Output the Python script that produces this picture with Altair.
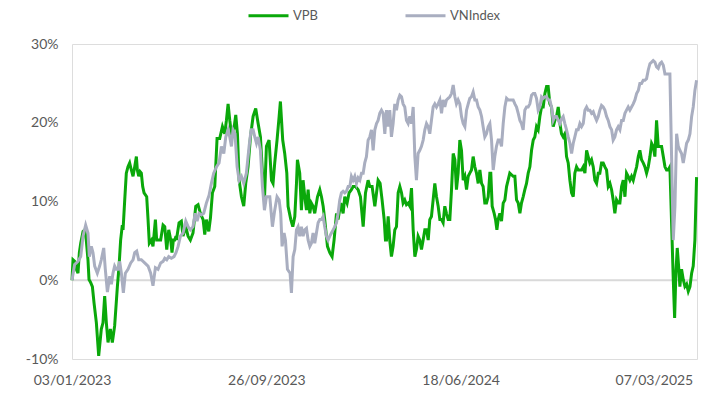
import altair as alt
import pandas as pd

# ---- data (trading-day index since 03/01/2023, % change) ----
vpb_day = [0, 0.95, 2.5, 4.1, 5.7, 7.0, 8.3, 10.5, 12.1, 13.6, 15.2, 16.2, 17.8, 19.4, 21.0,
           23.2, 25.4, 27.9, 29.5, 31.1, 32.7, 34.3, 36.5, 38.4, 40.6, 43.2, 44.8, 46.3, 47.9, 48.6,
           50.2, 51.7, 53.3, 54.9, 56.5, 58.1, 59.7, 61.3, 62.2, 63.5, 64.8, 66.0, 67.3, 68.6, 71.1,
           72.4, 73.6, 75.6, 77.1, 79.4, 80.6, 81.9, 84.4, 86.7, 88.3, 90.2, 92.1, 94.0, 95.2, 96.5,
           97.8, 99.0,
           99.4, 101.9, 104.1, 105.7, 108.3, 110.5, 112.7, 115.2, 117.8, 120.0, 122.2, 124.8, 126.4,
           127.9, 130.2, 131.8, 133.7, 135.9, 138.1, 140.6, 143.2, 145.4, 147.0, 148.6, 150.2, 151.8,
           154.0, 155.9, 157.5, 159.1, 161.3, 163.5, 165.4, 167.6, 169.9, 172.4, 174.9, 177.2, 179.4,
           181.3, 183.2, 185.1, 187.6, 189.9, 191.4, 193.0, 195.2, 197.2, 198.4,
           200.6, 202.5, 204.5, 205.7, 208.3, 210.2, 212.1, 213.7, 214.6, 216.8, 218.4, 220.0, 221.6,
           223.2, 224.8, 226.4, 227.9, 229.5, 231.1, 233.7, 235.9, 237.5, 239.1, 240.6, 243.2, 245.4,
           247.6, 249.5, 251.8, 253.3, 255.9, 258.1, 259.7, 261.9, 263.8, 266.0, 267.6, 269.9, 272.4,
           274.6, 277.2, 279.4, 281.9, 283.5, 285.7, 288.3, 289.9, 291.4, 293.3, 295.2, 297.2, 298.4,
           299.4, 301.0, 302.5, 304.1, 305.7, 307.3, 308.9, 310.5, 312.1, 313.7, 315.2, 316.8, 318.4,
           320.0, 321.6, 323.2, 324.8, 326.4, 327.9, 329.5, 331.1, 332.7, 334.3, 335.9, 337.5, 339.1,
           340.6, 342.2, 343.8, 345.4, 347.0, 348.6, 350.2, 351.8, 353.3, 354.9, 356.5, 358.1, 359.7,
           361.3, 362.9, 364.5, 366.0, 367.6, 369.2, 370.8, 372.4, 374.0, 375.6, 377.2, 378.7, 380.3,
           381.9, 383.5, 385.1, 386.7, 388.3, 389.9, 391.4, 393.0, 394.6, 396.2, 397.8,
           398.7, 400.0, 401.9, 403.2, 404.5, 405.7, 407.3, 408.9, 410.5, 412.1, 413.7, 415.2, 416.8,
           418.4, 420.0, 421.6, 423.2, 424.8, 426.4, 427.9, 429.5, 431.1, 432.7, 434.3, 435.9, 437.5,
           439.1, 440.6, 442.2, 443.8, 445.4, 447.0, 448.6, 450.2, 451.8, 453.3, 454.9, 456.5, 458.1,
           459.7, 461.3, 462.9, 464.5, 466.0, 467.6, 469.2, 470.8, 472.4, 474.0, 475.6, 477.2, 478.7,
           480.3, 481.9, 483.5, 485.1, 486.7, 488.3, 489.9, 491.4, 493.0, 494.6, 496.2, 497.8,
           499.4, 501.0, 502.5, 504.1, 505.7, 507.3, 508.9, 510.5, 512.1, 513.7, 515.2, 516.8, 518.4,
           520.0, 521.6, 523.2, 524.8, 526.4, 527.9, 529.5, 531.1, 532.7, 534.3, 535.9, 537.5, 539.1,
           540.6, 542.2, 543.8, 545.4, 547.0, 548.6, 550.2, 551.8, 553.3, 554.9, 556.5, 558.1, 559.7,
           561.3, 562.9, 564.5, 566.0, 567.6, 569.2, 570.8, 572.4, 573.7, 574.9, 576.2, 577.5, 578.7,
           580.3, 581.9, 583.5, 585.1, 586.7, 588.3, 589.9, 591.4, 593.0, 594.6]
vpb_pct = [0, 2.6, 2.4, 1.4, 0.9, 3.5, 4.7, 6.2, 6.4, 5.1, 2.6, 0.1, -0.3, -0.8, -2.9,
           -5.4, -9.6, -6.2, -5.4, -2.0, -5.4, -7.9, -6.2, -7.9, -5.8, -0.8, 1.8, 5.1, 7.0, 6.4,
           10.2, 13.6, 14.4, 14.9, 14.0, 13.2, 14.4, 15.7, 14.0, 13.2, 13.8, 13.6, 11.9, 11.1, 10.6,
           7.7, 4.7, 5.1, 4.3, 7.7, 5.1, 5.1, 5.1, 7.0, 6.8, 3.9, 6.4, 5.1, 3.5, 5.1,
           5.1, 5.6,
           5.1, 7.3, 7.5, 5.6, 6.8, 5.6, 5.1, 6.0, 9.4, 9.6, 8.5, 7.7, 5.8,
           7.7, 6.2, 7.9, 11.1, 11.9, 18.0, 18.0, 19.5, 18.6, 20.3, 22.4, 20.3, 18.6,
           19.1, 21.0, 18.6, 12.7, 10.6, 9.4, 12.3, 14.4, 18.2, 20.8, 21.8, 19.9, 18.2,
           13.6, 10.2, 17.0, 17.8, 12.7, 12.3, 14.9, 17.8, 20.8, 22.7,
           17.8, 16.1, 13.6, 9.4, 7.7, 6.8, 8.1, 12.3, 15.3, 13.6, 8.9, 12.7, 10.6,
           8.9, 11.5, 8.5, 9.8, 9.4, 8.5, 10.6, 11.5, 10.6, 9.4, 7.7, 4.3, 3.5,
           3.0, 5.1, 8.5, 7.7, 9.8, 8.5, 10.6, 9.8, 11.1, 11.5, 11.9, 11.9, 11.5,
           10.6, 6.8, 11.1, 12.7, 11.9, 11.9, 9.4, 11.1, 12.7, 12.3, 10.2, 7.7, 5.1,
           5.1, 8.1, 5.1, 3.0, 4.3, 6.4, 6.8, 11.1, 11.9, 11.1, 9.8, 10.2, 9.6,
           9.8, 9.4, 11.7, 6.4, 3.0, 3.9, 5.6, 5.1, 3.9, 5.1, 6.4, 6.4, 5.1,
           7.7, 8.1, 10.2, 12.3, 10.6, 9.4, 7.7, 7.7, 7.3, 9.4, 8.5, 7.7, 7.7,
           11.5, 16.1, 15.3, 11.5, 13.6, 17.8, 16.5, 12.7, 13.2, 11.5, 13.2, 13.6, 14.0,
           15.7, 14.4, 13.6, 12.3, 14.0, 12.3, 11.9, 9.8, 9.8, 10.6, 13.6,
           13.6, 9.4, 8.5, 7.7, 6.4, 7.7, 8.5, 7.5, 9.8, 10.2, 11.9, 12.7, 13.6,
           13.4, 13.2, 13.2, 10.2, 9.8, 8.5, 9.8, 10.6, 11.5, 12.3, 13.6, 14.4, 16.5,
           17.8, 18.2, 19.5, 19.1, 20.8, 22.0, 22.0, 23.7, 24.6, 24.6, 22.4, 22.0, 19.5,
           20.3, 20.8, 22.0, 19.9, 18.6, 18.2, 18.6, 15.7, 14.9, 12.7, 11.1, 10.6, 13.6,
           14.4, 14.0, 14.0, 14.0, 14.4, 13.6, 16.5, 15.7, 14.9, 15.3, 14.4, 12.7,
           12.3, 13.6, 13.6, 14.9, 14.9, 14.4, 14.0, 11.9, 12.3, 11.5, 10.2, 8.5, 10.2,
           9.8, 9.8, 11.9, 12.7, 10.6, 13.6, 13.2, 12.7, 13.2, 12.7, 13.6, 14.4, 15.7,
           16.5, 15.3, 14.9, 14.4, 13.6, 14.4, 15.7, 17.4, 17.0, 15.7, 20.3, 17.0, 17.0,
           17.0, 15.7, 14.4, 14.0, 14.0, 14.4, 7.3, 0.1, -4.8, 0.9, 4.1, 1.8, -0.8,
           1.4, 0.1, -0.8, -0.5, -1.4, -0.8, 0.9, 1.8, 5.1, 13.1]

vni_day = [0, 2.5, 5.7, 8.3, 10.5, 13.0, 15.2, 16.5, 18.4, 20.0, 21.6, 24.1, 26.3, 27.9, 30.2,
           31.7, 33.7, 35.9, 37.5, 39.0, 40.6, 42.2, 43.8, 45.4, 47.0, 48.9, 50.8, 53.3, 55.9, 58.1,
           59.7, 61.6, 63.5, 66.0, 69.2, 72.4, 74.9, 77.1, 79.4, 81.9, 84.4, 86.7, 88.3, 90.2, 92.1,
           94.6, 97.1, 99.0,
           101.0, 103.2, 105.7, 108.3, 110.5, 112.7, 115.2, 117.2, 119.1, 121.0, 123.2, 125.4, 127.9,
           130.5, 132.7, 134.9, 137.5, 140.0, 142.2, 144.5, 146.4, 148.6, 150.2, 151.8, 153.3, 155.2,
           157.2, 159.1, 161.3, 163.5, 166.0, 168.6, 170.5, 172.4, 174.0, 175.6, 177.2, 179.4, 181.3,
           183.2, 185.1, 188.3, 190.8, 193.0, 195.2, 197.2,
           198.7, 200.0, 201.9, 203.2, 205.1, 207.6, 208.9, 210.5, 212.1,
           213.7, 215.2, 216.8, 218.4, 220.0, 221.6, 223.2, 224.8, 226.4, 227.9, 229.5, 231.1, 232.7,
           234.3, 235.9, 237.5, 239.1, 240.6, 242.2, 243.8, 245.4, 247.0, 248.6, 250.2, 251.8, 253.3,
           254.9, 256.5, 258.1, 259.7, 261.3, 262.9, 264.5, 266.0, 267.6, 269.2, 270.8, 272.4, 274.0,
           275.6, 277.2, 278.7, 280.3, 281.9, 283.5, 285.1, 286.7, 288.3, 289.9, 291.4, 293.0, 294.6,
           296.2, 297.8,
           299.4, 301.0, 302.5, 304.1, 305.7, 307.3, 308.9, 310.5, 312.1, 313.7, 315.2, 316.8, 318.4,
           320.0, 321.6, 323.2, 324.8, 326.4, 327.9, 329.5, 331.1, 332.7, 334.3, 335.9, 337.5, 339.1,
           340.6, 342.2, 343.8, 345.4, 347.0, 348.6, 350.2, 351.8, 353.3, 354.9, 356.5, 358.1, 359.7,
           361.3, 362.9, 364.5, 366.0, 367.6, 369.2, 370.8, 372.4, 374.0, 375.6, 377.2, 378.7, 380.3,
           381.9, 383.5, 385.1, 386.7, 388.3, 389.9, 391.4, 393.0, 394.6, 396.2, 397.8,
           399.4, 401.0, 402.5, 404.1, 405.7, 407.3, 408.9, 410.5, 412.1, 413.7, 415.2, 416.8, 418.4,
           420.0, 421.6, 423.2, 424.8, 426.4, 427.9, 429.5, 431.1, 432.7, 434.3, 435.9, 437.5, 439.1,
           440.6, 442.2, 443.8, 445.4, 447.0, 448.6, 450.2, 451.8, 453.3, 454.9, 456.5, 458.1, 459.7,
           461.3, 462.9, 464.5, 466.0, 467.6, 469.2, 470.8, 472.4, 474.0, 475.6, 477.2, 478.7, 480.3,
           481.9, 483.5, 485.1, 486.7, 488.3, 489.9, 491.4, 493.0, 494.6, 496.2, 497.8,
           499.4, 501.0, 502.5, 504.1, 505.7, 507.3, 508.9, 510.5, 512.1, 513.7, 515.2, 516.8, 518.4,
           520.0, 521.6, 523.2, 524.8, 526.4, 527.9, 529.5, 531.1, 532.7, 534.3, 535.9, 537.5, 539.1,
           540.6, 542.2, 543.8, 545.4, 547.0, 548.6, 550.2, 551.8, 553.3, 554.9, 556.5, 558.1, 559.7,
           561.3, 562.9, 564.5, 566.0, 567.6, 569.2, 570.8, 572.4, 574.0, 575.6, 577.2, 578.7, 580.3,
           581.9, 583.5, 585.1, 586.7, 588.3, 589.9, 591.4, 593.0, 594.6]
vni_pct = [0, 2.0, 2.4, 3.0, 5.6, 7.0, 6.0, 3.0, 4.3, 3.5, 1.8, 0.9, 1.8, 2.6, 4.1,
           1.4, -1.5, 0.5, -0.5, 0.9, 1.8, 1.4, 1.4, 2.4, 0.9, -1.6, 0.9, 1.4, 2.2, 2.6,
           3.5, 3.7, 2.6, 2.6, 2.2, 1.8, 0.9, -0.7, 1.6, 1.4, 2.2, 2.4, 2.8, 2.6, 3.0,
           2.8, 3.0, 3.5,
           4.3, 5.6, 6.0, 7.5, 6.8, 6.4, 6.8, 8.5, 7.5, 8.5, 8.3, 8.5, 9.8,
           10.8, 12.3, 13.6, 14.4, 14.9, 17.0, 16.1, 18.2, 19.1, 18.2, 17.0, 19.1, 18.6,
           14.4, 12.7, 13.2, 12.3, 13.6, 17.0, 19.1, 19.1, 18.2, 17.4, 18.2, 16.5, 11.9,
           8.9, 10.6, 10.6, 6.8, 8.9, 10.6, 10.2,
           8.5, 4.3, 6.0, 5.1, 1.4, 0.9, -1.6, 3.0, 3.9,
           6.4, 6.8, 5.6, 6.8, 5.6, 6.4, 6.6, 5.1, 4.3, 4.7, 6.0, 4.7, 6.0,
           7.3, 7.7, 7.7, 8.1, 6.8, 5.6, 5.1, 5.6, 6.0, 6.4, 6.8, 7.3, 8.5,
           10.2, 11.1, 11.3, 11.1, 11.3, 11.9, 11.9, 13.2, 12.7, 13.2, 12.3, 13.0, 12.7,
           13.6, 13.6, 14.9, 15.7, 17.8, 18.2, 19.1, 16.5, 19.1, 19.9, 20.3, 21.2, 21.6,
           21.2, 18.6,
           21.6, 19.5, 21.6, 18.2, 19.9, 22.4, 21.6, 22.9, 23.5, 23.3, 22.4, 22.0, 20.3,
           19.9, 20.8, 19.9, 22.0, 15.7, 12.7, 16.1, 16.5, 17.0, 17.8, 19.1, 19.9, 19.5,
           18.6, 20.3, 22.0, 22.4, 22.0, 22.4, 22.9, 21.2, 22.9, 22.0, 22.9, 23.1, 23.3,
           23.7, 24.8, 23.3, 22.4, 22.9, 22.4, 20.8, 19.9, 19.5, 21.6, 22.4, 23.1, 23.3,
           23.9, 22.9, 22.9, 22.0, 21.6, 20.8, 19.5, 18.2, 18.6, 19.5, 19.9,
           17.8, 14.0, 15.7, 17.0, 17.8, 17.8, 17.0, 19.9, 22.0, 23.1, 22.9, 22.9, 22.9,
           22.9, 22.4, 22.0, 21.2, 20.3, 19.9, 19.1, 21.6, 22.0, 22.0, 22.4, 23.5, 23.7,
           23.7, 23.1, 21.6, 22.0, 23.3, 23.1, 23.3, 23.3, 22.9, 22.9, 22.0, 20.3, 20.8,
           20.8, 20.3, 19.9, 20.5, 20.8, 19.9, 19.1, 18.2, 17.4, 16.1, 17.4, 18.2, 19.1,
           19.1, 19.9, 19.5, 19.9, 21.6, 22.0, 21.6, 21.6, 21.2, 21.4, 20.8,
           20.3, 20.8, 21.6, 22.2, 22.0, 21.6, 20.8, 20.3, 19.5, 19.1, 17.8, 18.2, 19.1,
           19.5, 19.1, 20.3, 20.3, 21.2, 21.6, 22.0, 21.6, 22.0, 22.4, 22.9, 23.7, 24.1,
           25.0, 25.0, 25.4, 25.4, 25.6, 26.7, 27.5, 27.7, 27.9, 27.7, 27.1, 26.9, 27.5,
           27.7, 27.3, 26.2, 26.2, 26.2, 26.2, 15.7, 5.1, 9.4, 18.6, 17.0, 16.5, 16.1,
           14.9, 16.1, 17.4, 17.8, 18.6, 20.8, 22.0, 24.1, 25.4]

series_names = ["VPB", "VNIndex"]
series_colors = ["#0aa80a", "#a9aec0"]
tick_days = [0, 185, 370, 554]
tick_labels = ["03/01/2023", "26/09/2023", "18/06/2024", "07/03/2025"]
y_ticks = [-10, 0, 10, 20, 30]

df_vpb = pd.DataFrame({"day": vpb_day, "pct": vpb_pct, "series": series_names[0]})
df_vni = pd.DataFrame({"day": vni_day, "pct": vni_pct, "series": series_names[1]})
df_zero = pd.DataFrame({"pct": [0]})

FONT = "Lato"
TXT = "#595959"

label_expr = " : ".join(
    f"datum.value == {d} ? '{t}'" for d, t in zip(tick_days, tick_labels)
) + " : ''"

x_enc = alt.X(
    "day:Q",
    scale=alt.Scale(domain=[0, 595], nice=False, zero=False),
    axis=alt.Axis(values=tick_days, labelExpr=label_expr, title=None, grid=False,
                  domain=False, ticks=False, labelFlush=False, labelOverlap=False,
                  labelPadding=14, labelFontSize=14, labelColor=TXT, labelFont=FONT),
)
y_enc = alt.Y(
    "pct:Q",
    scale=alt.Scale(domain=[-10, 30], nice=False),
    axis=alt.Axis(values=y_ticks, labelExpr="datum.value + '%'", title=None, grid=False,
                  domain=False, ticks=False, labelPadding=14, labelFontSize=14,
                  labelColor=TXT, labelFont=FONT),
)
color_enc = alt.Color(
    "series:N",
    scale=alt.Scale(domain=series_names, range=series_colors),
    legend=alt.Legend(title=None, orient="none", direction="horizontal",
                      legendX=175, legendY=-50, symbolType="stroke", symbolSize=1600,
                      symbolStrokeWidth=3, labelFontSize=13, labelColor=TXT, labelFont=FONT,
                      columnPadding=80, labelOffset=3, padding=0),
)

zero = alt.Chart(df_zero).mark_rule(color="#d9d9d9", strokeWidth=2).encode(y=alt.Y("pct:Q"))
line_vpb = alt.Chart(df_vpb).mark_line(strokeWidth=3, interpolate="linear").encode(
    x=x_enc, y=y_enc, color=color_enc)
line_vni = alt.Chart(df_vni).mark_line(strokeWidth=3, interpolate="linear").encode(
    x=x_enc, y=y_enc, color=color_enc)

chart = alt.layer(zero, line_vpb, line_vni).properties(
    width=625, height=315,
    autosize=alt.AutoSizeParams(type="none"),
    padding={"left": 64, "top": 36, "right": 13, "bottom": 30},
).configure_view(stroke=None).configure(font=FONT)

chart.save("out.html", embed_options={"renderer": "svg", "actions": False})
